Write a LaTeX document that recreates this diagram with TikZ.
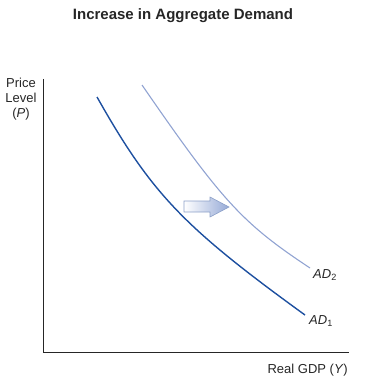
\documentclass[tikz,border=0pt]{standalone}
\usepackage{fontspec}
\setmainfont{Liberation Sans}
\begin{document}
\begin{tikzpicture}[x=1pt,y=-1pt,
  lbl/.style={font=\fontsize{13}{15}\selectfont, inner sep=0pt, text=black!85},
  axisline/.style={line width=0.8pt, black!85},
  adone/.style={line width=1.4pt, color={rgb,255:red,30;green,80;blue,160}},
  adtwo/.style={line width=1.1pt, color={rgb,255:red,145;green,163;blue,210}}]
\useasboundingbox (0,0) rectangle (372,382);
\node[font=\bfseries\fontsize{15}{17}\selectfont, inner sep=0pt, anchor=base, text=black!85] (title) at (183,19.5) {Increase in Aggregate Demand};
\coordinate (top) at (43,79);
\coordinate (origin) at (43,352);
\coordinate (right) at (349,352);
\draw[axisline] (top) -- (origin) -- (right);
\node[lbl, align=center, anchor=north] (ylab) at (21,77.5) {Price\\Level\\(\textit{P})};
\node[lbl, anchor=base east] (xlab) at (348,373) {Real GDP (\textit{Y})};
\coordinate (a1s) at (97,97);
\coordinate (a1e) at (305,315);
\coordinate (a2s) at (142,85);
\coordinate (a2e) at (310,268);
\draw[adone] (a1s) .. controls (151.8,193.9) and (183,226.6) .. (a1e);
\draw[adtwo] (a2s) .. controls (222,201) and (242,223) .. (a2e);
\node[lbl, anchor=base west] (ad2) at (313,278) {\textit{AD}\textsubscript{2}};
\node[lbl, anchor=base west] (ad1) at (309,324) {\textit{AD}\textsubscript{1}};
\shade[left color=white, right color={rgb,255:red,150;green,170;blue,215}, draw={rgb,255:red,140;green,160;blue,200}, line width=0.6pt]
  (184,201) -- (210,201) -- (210,197) -- (229,207) -- (210,217) -- (210,212) -- (184,212) -- cycle;
\end{tikzpicture}
\end{document}
